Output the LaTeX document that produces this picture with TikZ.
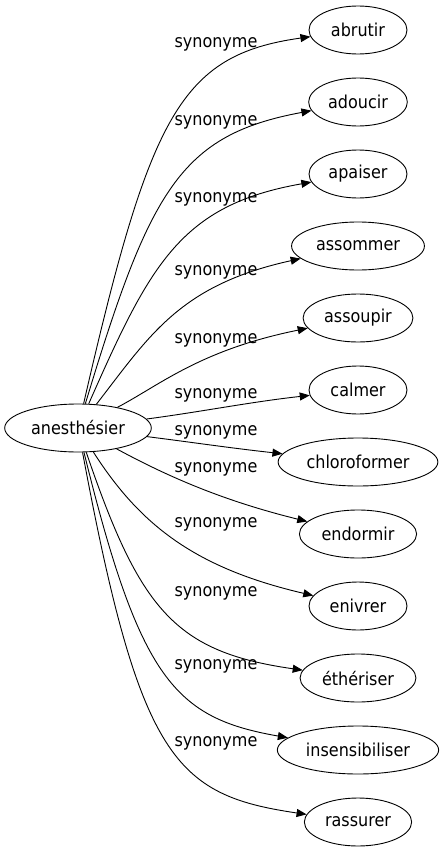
\documentclass[tikz,border=0pt]{standalone}
\usepackage{fontspec}
\setmainfont{DejaVu Sans Condensed}
\usepackage{tikz}
\usetikzlibrary{shapes.geometric, arrows.meta}

\tikzset{
  word/.style={ellipse, draw, line width=0.9pt, minimum width=98, minimum height=48,
    inner xsep=5pt, inner ysep=2pt, font=\fontsize{17.8}{21}\selectfont},
  rel/.style={line width=0.9pt, -{Triangle[length=10pt, width=8pt]}},
  rellabel/.style={anchor=base, inner sep=0pt, font=\fontsize{17.8}{21}\selectfont}
}

\begin{document}
\begin{tikzpicture}[x=1pt, y=-1pt]
				% ============================================================
				% 12 synonymes, pas vertical = 72 px, colonne x = 358
				% ============================================================
				\useasboundingbox (0,0) rectangle (446,851);
				
				% === SOURCE ===
				\node[word] (src) at (78,428) {anesthésier};
				
				% === CIBLES ===
				\foreach \mot [count=\i from 0] in {abrutir, adoucir, apaiser, assommer,
					assoupir, calmer, chloroformer, endormir, enivrer, éthériser,
					insensibiliser, rassurer} {
					\pgfmathsetmacro{\ys}{30 + \i * 72}
					\node[word] (t\i) at (358, \ys) {\mot};
				}
				
				% === ARCS (points de controle a la main) ===
				\foreach \i/\ax/\ay/\bx/\by in {
					0/150/115/180/55,    1/150/190/180/135,   2/150/265/180/205,
					3/150/335/180/285,   4/160/385/200/350,   5/200/412/250/402,
					6/190/442/230/448,   7/165/475/220/500,   8/140/525/195/568,
					9/140/610/175/652,   10/140/680/175/718,  11/140/760/175/795} {
					\draw[rel] (src) .. controls (\ax,\ay) and (\bx,\by) .. (t\i);
				}
				
				% === ETIQUETTES ===
				\foreach \yb [count=\i from 0] in {48,125,202,275,343,398,435,472,527,596,669,746} {
					\node[rellabel] (l\i) at (216, \yb) {synonyme};
				}
				
			\end{tikzpicture}
\end{document}
